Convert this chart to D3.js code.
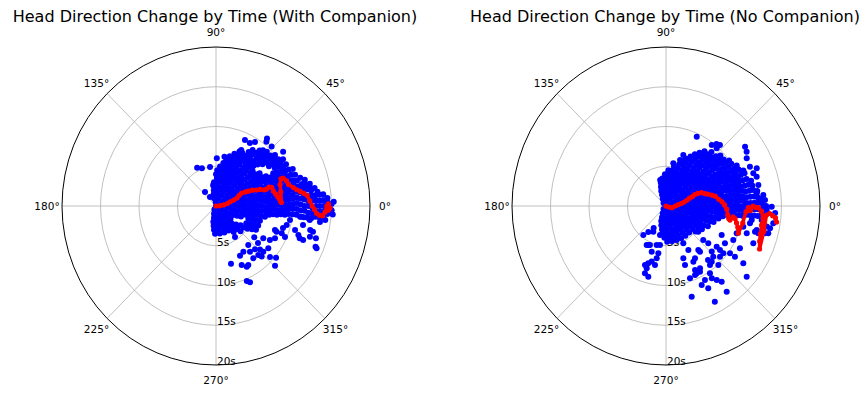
<!DOCTYPE html>
<html>
<head>
<meta charset="utf-8">
<script src="https://cdn.jsdelivr.net/npm/d3@7"></script>
<style>
  body { margin: 0; background: #fff; }
  text { font-family: "DejaVu Sans", sans-serif; fill: #000; }
</style>
</head>
<body>
<svg id="chart" width="867" height="396"></svg>
<script>
// titles and ticks
const titles = ["Head Direction Change by Time (With Companion)", "Head Direction Change by Time (No Companion)"];
const angleTicks = [0, 45, 90, 135, 180, 225, 270, 315];
const radialTicks = [5, 10, 15, 20];

// blue samples, dense part: [seconds, [angles in degrees]]
const leftRows = [
  [0, [0]],
  [0.5, [-115, -45, 25, 95]],
  [1.0, [-105, -70, -35, 0, 35, 70, 105]],
  [1.5, [-100, -77, -54, -31, -8, 15, 38, 61, 84, 102]],
  [2.0, [-100, -82, -64, -46, -28, -10, 8, 26, 44, 62, 80, 98]],
  [2.5, [-97, -83, -69, -55, -41, -27, -13, 1, 15, 29, 43, 57, 71, 85, 97]],
  [3.0, [-95, -83, -71, -59, -47, -24, -12, 0, 12, 24, 36, 48, 60, 72, 84, 95]],
  [3.5, [-92, -82, -72, -62, -52, -42, -22, -12, -2, 8, 18, 28, 38, 48, 58, 68, 78, 88]],
  [4.0, [-55, -46, -37, -16, -7, 2, 11, 20, 29, 38, 47, 56, 65, 74, 83, 90]],
  [4.5, [-45, -37, -29, -21, -13, -5, 3, 11, 19, 27, 35, 43, 51, 59, 67, 75, 83, 88]],
  [5.0, [-35, -28, -21, -14, -7, 0, 7, 14, 21, 28, 35, 42, 49, 56, 63, 70, 77, 84]],
  [5.5, [-32, -26, -19, -12, -6, 1, 8, 14, 21, 28, 34, 41, 48, 54, 61, 68, 74, 80]],
  [6.0, [-30, -24, -18, -12, -6, 0, 6, 12, 18, 24, 30, 36, 42, 48, 54, 60, 66, 72, 77]],
  [6.5, [-12, -6, -1, 5, 10, 16, 21, 27, 32, 38, 43, 49, 54, 60, 65, 71, 74]],
  [7.0, [-9, -4, 1, 6, 11, 16, 21, 26, 31, 36, 46, 51, 56, 61, 66, 70]],
  [7.5, [-8, -3, 2, 6, 11, 16, 20, 25, 30, 44, 49, 54, 58, 63, 66]],
  [8.0, [-8, -4, 1, 5, 9, 14, 18, 23, 27, 41, 45, 49, 54, 58]],
  [8.5, [-7, -3, 1, 5, 9, 13, 17, 21, 25, 29, 36, 40, 44, 48, 52, 56]],
  [9.0, [-7, -3, 1, 5, 9, 13, 16, 20, 24, 28, 32, 36, 40, 44, 47, 51]],
  [9.5, [-6, -2, 1, 5, 9, 12, 16, 20, 23, 27, 31, 34, 38, 42, 46]],
  [10.0, [-6, -2, 1, 5, 8, 12, 15, 19, 22, 26, 29, 33, 36, 40]],
  [10.5, [-6, -2, 2, 6, 10, 14, 18, 22, 26, 30, 34]],
  [11.0, [-7, -3, 1, 5, 9, 13, 17, 21, 25]],
  [11.5, [-7, -3, 0, 4, 7, 11, 14, 18]],
  [12.0, [-7, -4, 0, 3, 6, 10, 13, 16]],
  [12.5, [-7, -4, -1, 3, 6, 9, 13]],
  [13.0, [-6, -3, 0, 3, 6, 10]],
  [13.5, [-6, -3, 0, 3, 6]],
  [14.0, [-6, -3, 0, 3, 6]],
  [14.5, [-4, -1, 2, 4]],
  [15.0, [-2, 1]]
];

// blue samples, scattered: [angle deg, seconds]
const leftExtra = [
  [117, 5.4], [111, 5.1], [99, 4.97], [129, 2.27], [125, 1.37], [98, 2.67], [89, 6.0], [80, 6.3],
  [65.6, 9.1], [61, 9.07], [57.8, 9.5], [52, 10.76], [51, 10.4], [65, 7.76], [49, 9.3], [46, 10.4], [38, 11.06],
  [11, 12.4], [7.8, 13.3], [3, 13.9], [-2, 14.5], [-2, 15.0], [-4, 15.2], [2, 15.3],
  [-10.4, 9.77], [-14.6, 9.49], [-16.4, 10.7], [-18.8, 11.3], [-20.4, 11.6], [-6.9, 11.2], [-11.9, 11.55],
  [-8.2, 12.3], [-13.9, 12.6], [-14.4, 13], [-17.6, 12.8], [-17.4, 13.6], [-21.6, 13.9], [-22.1, 14.1],
  [-8.5, 13.65], [-7.1, 14.3], [-20.7, 12.1], [-17.7, 9.13], [-22.3, 8.5], [-21.9, 9.2], [-27.9, 8.67], [-23.5, 9.77],
  [-38.4, 6.34], [-33.5, 7.36], [-49.5, 6.45], [-58.3, 6.76], [-63.5, 6.99], [-52.5, 7.25], [-47.1, 7.44],
  [-43.7, 7.9], [-43.1, 8.41], [-38.1, 8.63], [-53.6, 8.17], [-48.3, 8.25], [-47, 8.7], [-39.8, 10.15],
  [-75, 7.52], [-65.8, 8.14], [-62.4, 8.62], [-60.5, 8.52], [-44.4, 10.73], [-67, 10.24], [-65.3, 10.57],
  [-40.5, 7.17], [-31.4, 8.2], [-21.5, 8.23], [-42.4, 9.5], [-57.6, 4.6]
];

// red mean trajectory: [angle deg, seconds]
const leftMean = [
  [10, 0], [5, 0.5], [8, 1.0], [12, 1.5], [16, 1.9], [18, 2.4], [20, 2.9], [24, 3.3], [26, 3.7], [25, 4.2],
  [24, 4.6], [23, 5.1], [21, 5.6], [20, 6.1], [18, 6.6], [18, 6.9], [19, 7.3], [18, 7.6], [14, 7.7], [11, 7.9],
  [8, 8.1], [6, 8.3], [4, 8.4], [3, 8.5], [12, 8.6], [18, 8.75], [22, 9.1], [22, 9.4], [19, 9.7], [16, 9.8],
  [13, 10.3], [11, 10.7], [9.5, 11.1], [8, 11.5], [6.5, 11.9], [3, 12.2], [0, 12.5], [-2, 12.8], [-4, 13.1],
  [-5, 13.5], [-5, 13.9], [-3, 14.2], [0, 14.4], [1, 14.6], [-1, 14.8], [-2, 14.6]
];

const rightRows = [
  [0, [0]],
  [0.5, [-130, -60, 10, 80, 130]],
  [1.0, [-115, -80, -45, -10, 25, 60, 95, 115]],
  [1.5, [-110, -87, -64, -41, -18, 5, 28, 51, 74, 97, 110]],
  [2.0, [-108, -90, -72, -54, -36, -18, 0, 18, 36, 54, 72, 90, 108]],
  [2.5, [-104, -90, -76, -62, -48, -34, -20, -6, 8, 22, 36, 50, 64, 78, 92, 105]],
  [3.0, [-100, -88, -76, -64, -52, -40, -28, -16, -4, 8, 20, 32, 44, 56, 68, 80, 92, 103]],
  [3.5, [-97, -87, -77, -67, -57, -47, -37, -27, -17, -7, 3, 13, 23, 33, 43, 53, 63, 73, 83, 93, 98]],
  [4.0, [-93, -84, -75, -66, -57, -48, -39, -30, -21, -12, -3, 6, 15, 24, 33, 42, 51, 60, 69, 78, 87, 92]],
  [4.5, [-88, -80, -72, -64, -56, -48, -40, -32, -24, -16, -8, 0, 8, 16, 24, 32, 40, 48, 56, 64, 72, 80, 86]],
  [5.0, [-40, -33, -26, -19, -12, -5, 2, 9, 16, 23, 30, 37, 44, 51, 58, 65, 72, 78]],
  [5.5, [-32, -26, -19, -13, -6, 0, 7, 13, 20, 26, 33, 39, 46, 52, 59, 65, 72]],
  [6.0, [-25, -19, -13, -7, -1, 5, 11, 17, 23, 29, 35, 41, 47, 53, 59, 65, 70]],
  [6.5, [-18, -13, -7, -2, 4, 9, 15, 20, 26, 31, 37, 42, 48, 53, 59, 64, 67]],
  [7.0, [-13, -8, -3, 2, 7, 12, 17, 22, 27, 32, 37, 42, 47, 52, 57, 63]],
  [7.5, [-10, -5, 0, 4, 9, 14, 18, 23, 28, 32, 37, 42, 46, 51, 56, 60]],
  [8.0, [-8, -4, 1, 5, 9, 14, 18, 23, 27, 31, 36, 40, 45, 49, 53, 57]],
  [8.5, [-7, -3, 1, 5, 9, 13, 17, 21, 25, 29, 33, 38, 42, 46, 50, 54]],
  [9.0, [-7, -3, 1, 5, 9, 13, 17, 21, 24, 28, 32, 36, 40, 44, 49]],
  [9.5, [-7, -3, 0, 4, 8, 12, 15, 19, 23, 27, 31, 35, 38, 42]],
  [10.0, [-7, -3, 0, 4, 7, 11, 14, 18, 21, 25, 28, 32, 35]],
  [10.5, [-6, -2, 2, 6, 10, 14, 18, 22, 26, 29]],
  [11.0, [-6, -2, 2, 6, 10, 14, 18, 22, 24]],
  [11.5, [-6, -2, 2, 6, 10, 13, 16]],
  [12.0, [-6, -2, 2, 5, 9]],
  [12.5, [-5, -1, 2, 4]],
  [13.0, [-4, 0]]
];

const rightExtra = [
  [65.4, 9.59], [52.2, 9.7], [47.6, 10.39], [47.8, 9.8], [36, 12.69], [33.1, 12.5], [29.8, 12.08], [24.4, 11.97],
  [19.9, 12.06], [21.9, 12.7], [17.4, 12.34], [12.4, 12.28], [6.2, 12.71], [3.3, 12.88], [7.7, 11.89], [50, 10.2],
  [103, 3.36], [92, 3.27], [104, 2.3], [80, 5.45], [72.5, 6.07], [70.7, 6.8],
  [-14.4, 12.16], [-16, 12.47], [-14.5, 13.72], [-8.1, 12.55], [-2.2, 13.09], [-0.4, 13.73], [-11.3, 11.12],
  [-14.5, 10.37], [-18.1, 11.03], [-15.6, 12.0], [-9, 11.27], [-11.2, 13.34], [-11.7, 13.8], [-14.9, 13.31],
  [-8.9, 14.1], [-3.6, 14.2], [-29, 10.98], [-22.5, 12.27], [-26.1, 9.73], [-20.5, 9.8], [-31.5, 8.98],
  [-26.8, 8.1], [-35.7, 12.36], [-40.3, 13.74],
  [-64.4, 5.2], [-62.3, 6.25], [-37.6, 5.29], [-41.5, 6.46], [-52.8, 6.94], [-52.5, 7.25], [-40.5, 7.22],
  [-44, 8.26], [-37.9, 8.34], [-38.3, 8.93], [-38.6, 9.53], [-46.1, 8.85], [-49.7, 9.18], [-42.3, 9.48],
  [-35.6, 10.22], [-35.5, 11.0], [-52.4, 9.36], [-47.5, 10.06], [-64.9, 8.89], [-61.9, 9.37], [-66.5, 9.46],
  [-61.5, 10.6], [-56.8, 10.86], [-54.7, 11.4], [-52.8, 11.96], [-62.1, 11.72], [-53.8, 13.35], [-73.7, 11.89],
  [-62.2, 13.6], [-71.1, 6.95], [-63.1, 7.85], [-71.6, 7.82], [-60.2, 7.58], [-60.6, 9.0], [-51.2, 8.71],
  [-56, 10.21], [-65, 10.97], [-71.1, 9.61], [-64.8, 9.36],
  [-128.9, 4.69], [-117, 3.63], [-117.1, 5.51], [-103.9, 5.05], [-99.5, 6.03], [-100.4, 6.69], [-104.9, 7.24],
  [-107.7, 7.57], [-107.7, 8.23], [-107.9, 8.9], [-104.5, 9.18], [-100.9, 7.56], [-113, 5.33], [-107.9, 6.04],
  [-99, 4.96], [-110.2, 7.9], [-115, 5.41], [-102, 3.73], [-125, 4.0], [-120, 3.2]
];

const rightMean = [
  [-10, 0], [-20, 0.4], [-15, 0.8], [0, 1.2], [6, 1.6], [9, 2.0], [12, 2.4], [15, 2.8], [18, 3.2], [19, 3.6],
  [21, 4.0], [21, 4.4], [20, 4.9], [17, 5.3], [15, 5.7], [13, 6.1], [11, 6.5], [7, 6.9], [4, 7.3], [1, 7.6],
  [-3, 7.9], [-8, 8.1], [-11, 8.3], [-12, 8.5], [-9, 8.8], [-10, 9.1], [-13, 9.4], [-16, 9.7], [-20, 10.0],
  [-12, 10.2], [-4, 10.4], [-1, 10.7], [-3, 11.0], [0, 11.3], [-1, 11.7], [-1, 12.0], [-3, 12.4], [-7, 12.7],
  [-11, 12.65], [-16, 12.75], [-20, 12.95], [-24, 13.3], [-14, 13.1], [-5, 13.1], [-4, 13.5], [-5, 13.9],
  [-6, 14.3], [-8, 14.5]
];

const svg = d3.select("#chart");

const panels = [
  { title: titles[0], cx: 216, cy: 206, rows: leftRows, extra: leftExtra, mean: leftMean },
  { title: titles[1], cx: 666, cy: 206, rows: rightRows, extra: rightExtra, mean: rightMean }
];

// picture is slightly stretched vertically, so two radial scales
const rx = d3.scaleLinear().domain([0, 20]).range([0, 154]);
const ry = d3.scaleLinear().domain([0, 20]).range([0, 159]);
const rad = d => d * Math.PI / 180;
const px = (a, r) => rx(r) * Math.cos(rad(a));
const py = (a, r) => -ry(r) * Math.sin(rad(a));

function drawPanel(p) {
  const g = svg.append("g").attr("transform", "translate(" + p.cx + "," + p.cy + ")");

  // grid
  g.selectAll(".ring")
    .data(radialTicks.slice(0, -1))
    .join("ellipse")
    .attr("class", "ring")
    .attr("rx", d => rx(d)).attr("ry", d => ry(d))
    .attr("fill", "none").attr("stroke", "#b0b0b0").attr("stroke-width", 0.8);

  g.selectAll(".spoke")
    .data(angleTicks)
    .join("line")
    .attr("class", "spoke")
    .attr("x1", 0).attr("y1", 0)
    .attr("x2", d => px(d, 20)).attr("y2", d => py(d, 20))
    .attr("stroke", "#b0b0b0").attr("stroke-width", 0.8);

  // radial labels along 270
  g.selectAll(".rlab")
    .data(radialTicks)
    .join("text")
    .attr("class", "rlab")
    .attr("x", 1).attr("y", d => ry(d) - 4)
    .attr("dominant-baseline", "central")
    .attr("font-size", 10.5)
    .text(d => d + "s");

  // blue samples
  const pts = p.rows.flatMap(([r, as]) => as.map(a => [a, r])).concat(p.extra);
  g.append("g")
    .selectAll("circle")
    .data(pts)
    .join("circle")
    .attr("cx", d => px(d[0], d[1]))
    .attr("cy", d => py(d[0], d[1]))
    .attr("r", 3)
    .attr("fill", "#0000ff");

  // red mean
  const line = d3.line().x(d => px(d[0], d[1])).y(d => py(d[0], d[1]));
  g.append("path")
    .datum(p.mean)
    .attr("d", line)
    .attr("fill", "none").attr("stroke", "#ff0000")
    .attr("stroke-width", 3.5).attr("stroke-linejoin", "round");
  g.append("g")
    .selectAll("circle")
    .data(p.mean)
    .join("circle")
    .attr("cx", d => px(d[0], d[1]))
    .attr("cy", d => py(d[0], d[1]))
    .attr("r", 2.6)
    .attr("fill", "#ff0000");

  // outer spine
  g.append("ellipse")
    .attr("rx", rx(20)).attr("ry", ry(20))
    .attr("fill", "none").attr("stroke", "#000").attr("stroke-width", 1);

  // angle labels
  g.selectAll(".alab")
    .data(angleTicks)
    .join("text")
    .attr("class", "alab")
    .attr("x", d => (rx(20) + 15) * Math.cos(rad(d)))
    .attr("y", d => -(ry(20) + 15) * Math.sin(rad(d)))
    .attr("text-anchor", "middle")
    .attr("dominant-baseline", "central")
    .attr("font-size", 10.5)
    .text(d => d + "°");

  // title
  svg.append("text")
    .attr("x", p.cx - 1).attr("y", 22)
    .attr("text-anchor", "middle")
    .attr("font-size", 16)
    .text(p.title);
}

panels.forEach(drawPanel);
</script>
</body>
</html>
